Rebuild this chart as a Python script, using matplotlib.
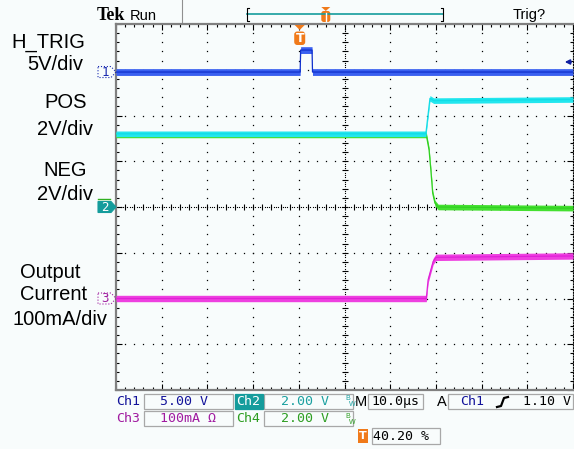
import numpy as np
import matplotlib.pyplot as plt
from matplotlib.patches import Rectangle, Polygon, FancyBboxPatch

# time axis: microseconds from the left edge of the screen
h_trig_t = [0, 40.3, 40.4, 42.9, 43.0, 100]
h_trig_v = [0, 0, 2.4, 2.4, 0, 0]            # V
pos_t = [0, 67.8, 68.7, 69.5, 100]
pos_v = [3.2, 3.2, 4.75, 4.65, 4.7]          # V
neg_t = [0, 67.9, 68.5, 68.9, 69.3, 69.8, 70.5, 100]
neg_v = [3.15, 3.15, 2.5, 1.6, 0.6, 0.17, 0.0, -0.05]   # V
iout_t = [0, 67.9, 68.3, 69.1, 69.4, 70.0, 100]
iout_ma = [0, 0, 41, 70, 81, 90, 93]         # mA

# channel setup: units per division and ground offset in divisions
ch_scale = {1: 5.0, 2: 2.0, 3: 100.0, 4: 2.0}
ch_offset = {1: 2.95, 2: 0.0, 3: -2.0, 4: 0.0}
time_per_div = 10.0
trig_level = 1.10     # V on ch1
trig_pos = 40.20      # % of record

labels = [("H_TRIG", 48, 47.5), ("5V/div", 55, 70.5), ("POS", 66, 108),
          ("2V/div", 65, 135), ("NEG", 65.5, 176), ("2V/div", 65, 200),
          ("Output", 50, 278), ("Current", 54, 300.5), ("100mA/div", 59.5, 325)]

BG = "#f8fcfc"
BLUE, CYAN, GREEN, MAG = "#1a3ad8", "#22e6ee", "#44e030", "#ee40e0"
TEAL = "#159c9c"
ORANGE = "#f07a1a"

W, H = 574, 449
GX0, GX1, GY0, GY1 = 116, 573, 24, 390
DIVPX = (GY1 - GY0) / 8.0

fig = plt.figure(figsize=(W / 100, H / 100), dpi=100)
fig.patch.set_facecolor(BG)
ax = fig.add_axes([GX0 / W, 1 - GY1 / H, (GX1 - GX0) / W, (GY1 - GY0) / H])
ax.set_facecolor(BG)
ax.set_xlim(0, 10 * time_per_div)
ax.set_ylim(-4, 4)

# graticule: dotted division lines, denser centre cross
for xv in [10, 20, 30, 40, 60, 70, 80, 90]:
    ys = np.arange(-3.8, 4, 0.2)
    ax.plot(np.full_like(ys, xv), ys, ls="none", marker="s", ms=0.9, mew=0, color="k")
for yv in [-3, -2, -1, 1, 2, 3]:
    xs = np.arange(2, 100, 2)
    ax.plot(xs, np.full_like(xs, yv, dtype=float), ls="none", marker="s", ms=0.9, mew=0, color="k")
ys = np.arange(-4, 4.01, 0.05)
ax.plot(np.full_like(ys, 50), ys, ls="none", marker="s", ms=0.8, mew=0, color="k")
xs = np.arange(0, 100.1, 0.5)
ax.plot(xs, np.zeros_like(xs), ls="none", marker="s", ms=0.8, mew=0, color="k")
ym = np.arange(-3.8, 4, 0.2)
ax.plot(np.full_like(ym, 50), ym, ls="none", marker="_", ms=4, mew=0.8, color="k")
xm = np.arange(2, 100, 2)
ax.plot(xm, np.zeros_like(xm), ls="none", marker="|", ms=4, mew=0.8, color="k")

ax.set_xticks(np.arange(0, 101, 10))
ax.set_xticks(np.arange(0, 101, 2), minor=True)
ax.set_yticks(np.arange(-4, 5, 1))
ax.set_yticks(np.arange(-4, 4.01, 0.2), minor=True)
ax.tick_params(which="both", direction="in", top=True, right=True, color="k",
               labelbottom=False, labelleft=False, width=0.8)
ax.tick_params(which="major", length=4)
ax.tick_params(which="minor", length=2.2)
for side in ["left", "top", "bottom"]:
    ax.spines[side].set_color("#808080")
    ax.spines[side].set_linewidth(1.6)
ax.spines["right"].set_color("k")
ax.spines["right"].set_linestyle((0, (1, 1.5)))
ax.spines["right"].set_linewidth(0.8)


def trace(t, vals, ch, band_px, fill, core):
    y = np.asarray(vals, dtype=float) / ch_scale[ch] + ch_offset[ch]
    h = band_px / DIVPX
    ax.fill_between(t, y - h, y + h, color=fill, lw=0, zorder=3)
    ax.plot(t, y, color=core, lw=0.9, zorder=3)


trace(neg_t, neg_v, 4, 2.8, GREEN, "#30d020")
trace(pos_t, pos_v, 2, 2.8, CYAN, "#10dce6")
trace(iout_t, iout_ma, 3, 3.2, MAG, "#e020d8")
trace(h_trig_t, h_trig_v, 1, 3.4, "#3a60f0", "#1030cc")

# screen furniture in pixel coordinates
ui = fig.add_axes([0, 0, 1, 1], zorder=5)
ui.set_xlim(0, W)
ui.set_ylim(H, 0)
ui.axis("off")
ui.patch.set_alpha(0)


def ypx(div):
    return GY0 + (4 - div) * DIVPX


SANS = "Liberation Sans"
MONO = "DejaVu Sans Mono"

for txt, xc, yb in labels:
    ui.text(xc, yb, txt, ha="center", va="baseline", fontsize=14.5, family=SANS, color="k")

# top bar
ui.text(97, 20.5, "Tek", fontsize=13, family="Liberation Serif", weight="bold", va="baseline")
ui.text(130, 19.5, "Run", fontsize=10.5, family=SANS, va="baseline")
ui.plot([182, 182], [0, 22], color="#909090", lw=0.8)
ui.plot([247, 443], [14, 14], color=TEAL, lw=1.2)
ui.plot([249, 247, 247, 249], [8, 8, 21, 21], color="k", lw=0.8)
ui.plot([441, 443, 443, 441], [8, 8, 21, 21], color="k", lw=0.8)
rx = 247 + trig_pos / 100 * 196
ui.add_patch(Polygon([[rx - 4.5, 7], [rx + 4.5, 7], [rx, 11]], closed=True, color=ORANGE, lw=0))
ui.add_patch(FancyBboxPatch((rx - 4.5, 11), 9, 11, boxstyle="round,pad=0,rounding_size=2.5",
                            color=ORANGE, lw=0))
ui.plot([rx, rx], [12.5, 20.5], color="white", lw=1.0)
ui.text(513, 18.5, "Trig?", fontsize=10.5, family=SANS, va="baseline")

# trigger position marker on the graticule
tx = GX0 + trig_pos / 100 * (GX1 - GX0)
ui.add_patch(Polygon([[tx - 5, 25], [tx + 5, 25], [tx, 30]], closed=True, color=ORANGE, lw=0))
ui.add_patch(FancyBboxPatch((tx - 5.5, 31.5), 11, 13.5, boxstyle="round,pad=0,rounding_size=3",
                            color=ORANGE, lw=0))
ui.text(tx, 38.5, "T", ha="center", va="center", fontsize=9, weight="bold", color="white",
        family="DejaVu Sans")

# trigger level arrow
ly = ypx(ch_offset[1] + trig_level / ch_scale[1])
ui.annotate("", xy=(562, ly), xytext=(574, ly),
            arrowprops=dict(arrowstyle="-|>", color="#1020a0", lw=1.2, mutation_scale=7))


# channel ground markers
def marker(ch, color, filled):
    yc = ypx(ch_offset[ch])
    pts = [[98, yc - 5.5], [111, yc - 5.5], [116, yc], [111, yc + 5.5], [98, yc + 5.5]]
    if filled:
        ui.add_patch(Polygon(pts, closed=True, facecolor=color, edgecolor=color, lw=0.8))
        tc = "white"
    else:
        ui.add_patch(Polygon(pts, closed=True, facecolor="none", edgecolor=color, lw=0.8, ls=":"))
        tc = color
    ui.text(105, yc + 0.5, str(ch), ha="center", va="center", fontsize=9, family=MONO, color=tc)


ui.plot([98, 110], [ypx(ch_offset[4]) - 8, ypx(ch_offset[4]) - 8], color="#30b020", lw=1.0)
marker(1, "#1a2ab0", False)
marker(2, TEAL, True)
marker(3, "#a020a0", False)

# status readout
FS = 9.5
C1, C2, C3, C4 = "#12129a", "#1aa0a0", "#a01aa0", "#2e9e22"


def box(x0, y0, x1, y1, fc="none", ec="#a8a8a8"):
    ui.add_patch(Rectangle((x0, y0), x1 - x0, y1 - y0, facecolor=fc, edgecolor=ec, lw=0.9))


def st(x, y, s, c, **kw):
    ui.text(x, y, s, fontsize=FS, family=MONO, color=c, va="center", **kw)


r1, r2, r3 = 401.5, 418.5, 436
box(144, 394, 233, 409)
box(264, 394, 353, 409)
box(368, 394, 423, 409)
box(448, 394, 573, 409)
box(144, 411, 233, 426)
box(264, 411, 353, 426)
box(372, 428, 440, 444)
box(235, 394, 263, 409, fc=TEAL, ec=TEAL)

st(116, r1, "Ch1", C1)
st(160, r1, "5.00 V", C1)
st(236, r1, "Ch2", "white")
st(281, r1, "2.00 V", C2)
ui.text(345, 399, "B", fontsize=5, family=SANS, color=C2, va="center")
ui.text(349, 405, "W", fontsize=5, family=SANS, color=C2, va="center")
ui.text(355, r1, "M", fontsize=10.5, family=SANS, color="k", va="center")
st(371, r1, "10.0µs", "k")
ui.text(437, r1, "A", fontsize=10.5, family=SANS, color="k", va="center")
st(460, r1, "Ch1", C1)
ui.plot([497, 501, 504, 508], [407, 406, 398, 397], color="k", lw=1.6)
st(571, r1, "1.10 V", "k", ha="right")

st(116, r2, "Ch3", C3)
st(160, r2, "100mA Ω", C3)
st(236, r2, "Ch4", C4)
st(281, r2, "2.00 V", C4)
ui.text(345, 416, "B", fontsize=5, family=SANS, color=C4, va="center")
ui.text(349, 422, "W", fontsize=5, family=SANS, color=C4, va="center")

ui.add_patch(Rectangle((358, 429), 10, 14, color=ORANGE, lw=0))
ui.text(363, r3, "T", ha="center", va="center", fontsize=8, weight="bold", color="white",
        family="DejaVu Sans")
st(373, r3, "40.20 %", "k")

fig.savefig("out.png", dpi=100, facecolor=BG)
